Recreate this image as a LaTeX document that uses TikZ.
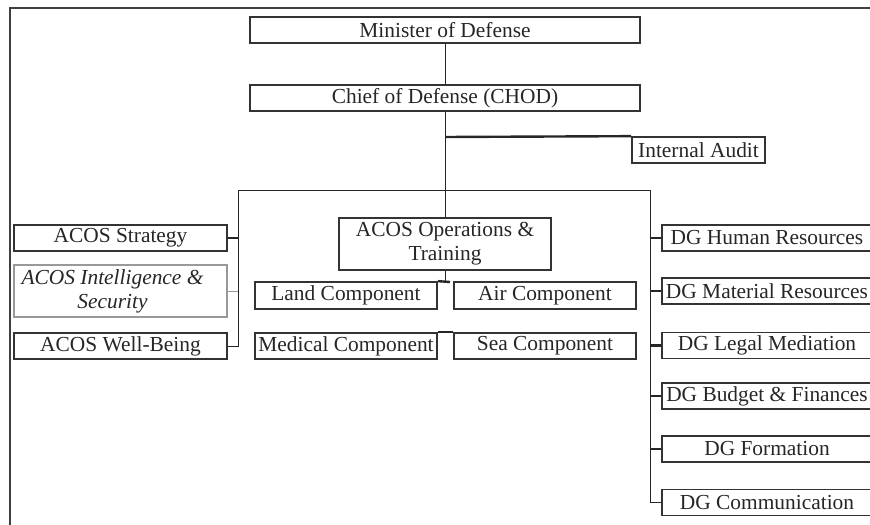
\documentclass[tikz,border=0pt]{standalone}
\usepackage{fontspec}
\setmainfont{Liberation Serif}
\begin{document}
\begin{tikzpicture}[x=0.5pt,y=-0.5pt,
  box/.style={draw=black!80, line width=0.85pt, inner sep=0pt, text=black!85,
    minimum height=13pt, font=\fontsize{10.7}{12}\selectfont, align=center},
  graybox/.style={box, draw=black!40},
  thin/.style={draw=black!85, line width=0.5pt},
  thick/.style={draw=black!85, line width=1.2pt},
  frame/.style={draw=black!75, line width=1pt}]
\useasboundingbox (0,0) rectangle (870,524);
\clip (0,0) rectangle (870,524);
\draw[frame] (10,526) -- (10,8) -- (872,8);
% top
\node[box, minimum width=195pt] (min) at (445,30) {Minister of Defense};
\node[box, minimum width=195pt] (chod) at (445,98) {Chief of Defense (CHOD)};
\node[box, minimum width=66.5pt] (audit) at (698.5,150) {Internal Audit};
% left
\node[box, minimum width=106.5pt] (strat) at (120.5,238) {ACOS Strategy};
\node[graybox, minimum width=106.5pt, minimum height=26pt] (intel) at (120.5,291) {\itshape ACOS Intelligence \&\hspace*{8pt}\\\itshape Security\hspace*{8pt}};
\node[box, minimum width=106.5pt] (well) at (120.5,346) {ACOS Well-Being};
% centre
\node[box, minimum width=106pt, minimum height=26pt] (ops) at (445,244) {ACOS Operations \&\\Training};
\node[box, minimum width=91pt, minimum height=13.5pt] (land) at (346,295.5) {Land Component};
\node[box, minimum width=91pt, minimum height=13.5pt] (air) at (545,295.5) {Air Component};
\node[box, minimum width=91pt] (med) at (346,346) {Medical Component};
\node[box, minimum width=91pt] (sea) at (545,346) {Sea Component};
% right
\node[box, minimum width=105pt] (hr) at (767,238) {DG Human Resources};
\node[box, minimum width=105pt] (mat) at (767,291) {DG Material Resources};
\node[box, minimum width=105pt] (legal) at (767,345.5) {DG Legal Mediation};
\node[box, minimum width=105pt] (budget) at (767,396) {DG Budget \& Finances};
\node[box, minimum width=105pt] (form) at (767,449) {DG Formation};
\node[box, minimum width=105pt] (comm) at (767,502.5) {DG Communication};
% coordinates
\coordinate (busC) at (445,190);
\coordinate (busL) at (238,190);
\coordinate (busR) at (650,190);
\coordinate (auditJ) at (445,137);
\coordinate (landJ) at (450,282);
% connectors
\draw[thin] (min.south) -- (chod.north);
\draw[thin] (chod.south) -- (busC);
\draw[thick] (auditJ) -- (audit.north west);
\draw[thin] (busL) -- (busR);
\draw[thin] (busC) -- (ops.north);
\draw[thin] (busL) -- (busL |- well.east) -- (well.east);
\draw[thick] (strat.east) -- (busL |- strat.east);
\draw[draw=black!40, line width=0.5pt] (intel.east) -- (busL |- intel.east);
\draw[thin] (busR) -- (busR |- comm.west) -- (comm.west);
\foreach \n in {hr,mat,legal,budget,form}
  \draw[thick] (busR |- \n.west) -- (\n.west);
\draw[thin] (ops.south) -- (ops.south |- land.north);
\draw[thick] (land.north east) -- (landJ);
\draw[thick] (med.north east) -- (sea.north west);
\end{tikzpicture}
\end{document}
